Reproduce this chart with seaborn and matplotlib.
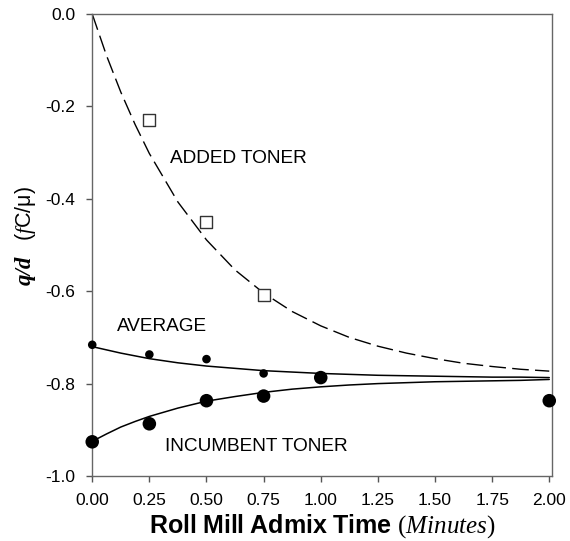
import numpy as np
import pandas as pd
import matplotlib
matplotlib.use("Agg")
import matplotlib.pyplot as plt
import seaborn as sns

# ---- data ----
added_x = [0.25, 0.50, 0.75]
added_y = [-0.229, -0.450, -0.608]

avg_x = [0.00, 0.25, 0.50, 0.75]
avg_y = [-0.716, -0.737, -0.747, -0.778]

inc_x = [0.00, 0.25, 0.50, 0.75, 1.00, 2.00]
inc_y = [-0.926, -0.887, -0.837, -0.827, -0.787, -0.837]

curve_x = [0.0, 0.0625, 0.125, 0.1875, 0.25, 0.375, 0.5, 0.625, 0.75, 0.875, 1.0,
           1.125, 1.25, 1.375, 1.5, 1.625, 1.75, 1.875, 2.0]
added_fit = [0.0, -0.090, -0.169, -0.239, -0.302, -0.407, -0.489, -0.554, -0.604,
             -0.644, -0.675, -0.700, -0.719, -0.734, -0.746, -0.756, -0.763, -0.769, -0.773]
avg_fit = [-0.720, -0.727, -0.734, -0.740, -0.746, -0.755, -0.762, -0.767, -0.772,
           -0.775, -0.778, -0.780, -0.782, -0.783, -0.784, -0.785, -0.786, -0.786, -0.787]
inc_fit = [-0.925, -0.909, -0.894, -0.882, -0.871, -0.853, -0.838, -0.828, -0.819,
           -0.812, -0.807, -0.803, -0.800, -0.798, -0.796, -0.795, -0.794, -0.793, -0.791]

x_ticks = [0.00, 0.25, 0.50, 0.75, 1.00, 1.25, 1.50, 1.75, 2.00]
y_ticks = [-1.0, -0.8, -0.6, -0.4, -0.2, 0.0]

sns.set_theme(style="ticks")
plt.rcParams["font.family"] = ["Liberation Sans", "DejaVu Sans"]
plt.rcParams["text.color"] = "black"
plt.rcParams["axes.unicode_minus"] = False
plt.rcParams["mathtext.fontset"] = "custom"
plt.rcParams["mathtext.rm"] = "Liberation Serif"
plt.rcParams["mathtext.it"] = "Liberation Serif:italic"
plt.rcParams["mathtext.bf"] = "Liberation Sans:bold"

W, H = 570, 541
fig = plt.figure(figsize=(W / 100, H / 100), dpi=100)
ax = fig.add_axes([92 / W, 1 - 476 / H, (552 - 92) / W, (476 - 14) / H])

curves = pd.DataFrame({"x": curve_x, "added": added_fit, "avg": avg_fit, "inc": inc_fit})
sns.lineplot(data=curves, x="x", y="added", ax=ax, color="black", lw=1.0,
             dashes=False, linestyle=(0, (12, 4.5)))
sns.lineplot(data=curves, x="x", y="avg", ax=ax, color="black", lw=1.1)
sns.lineplot(data=curves, x="x", y="inc", ax=ax, color="black", lw=1.1)

sns.scatterplot(x=added_x, y=added_y, ax=ax, marker="s", s=75, facecolor="white",
                edgecolor="#333333", linewidth=1.0, zorder=5, clip_on=False)
sns.scatterplot(x=avg_x, y=avg_y, ax=ax, marker="o", s=38, color="black",
                edgecolor="none", zorder=5, clip_on=False)
sns.scatterplot(x=inc_x, y=inc_y, ax=ax, marker="o", s=95, color="black",
                edgecolor="none", zorder=6, clip_on=False)

ax.set_xlim(-0.001, 2.012)
ax.set_ylim(-1.0, 0.0)
ax.set_xticks(x_ticks)
ax.set_xticklabels([f"{v:.2f}" for v in x_ticks])
ax.set_yticks(y_ticks)
ax.set_yticklabels([f"{v:.1f}" for v in y_ticks])
ax.tick_params(axis="both", direction="out", length=4, width=1, color="#555555",
               labelsize=12.5, labelcolor="black", pad=8)
for sp in ax.spines.values():
    sp.set_visible(True)
    sp.set_color("#666666")
    sp.set_linewidth(1.0)
ax.set_xlabel("")
ax.set_ylabel("")

ax.text(0.341, -0.312, "ADDED TONER", fontsize=13.7, va="center", ha="left", color="black")
ax.text(0.108, -0.677, "AVERAGE", fontsize=13.7, va="center", ha="left", color="black")
ax.text(0.320, -0.937, "INCUMBENT TONER", fontsize=13.7, va="center", ha="left", color="black")

# x label
fig.text(322 / W, 1 - 526 / H,
         r"$\mathbf{Roll\ Mill\ Admix\ Time}$ $\mathrm{(}\mathit{Minutes}\mathrm{)}$",
         fontsize=18, ha="center", va="center", color="black")
# y label
fig.text(25 / W, 1 - 270 / H, "q/d", family="Liberation Serif", weight="bold",
         style="italic", fontsize=16.5, rotation=90, ha="center", va="center", color="black")
fig.text(26 / W, 1 - 214 / H, r"($\mathit{f}$C/μ)", fontsize=15.5, rotation=90,
         ha="center", va="center", color="black")

fig.savefig("out.png", dpi=100)
